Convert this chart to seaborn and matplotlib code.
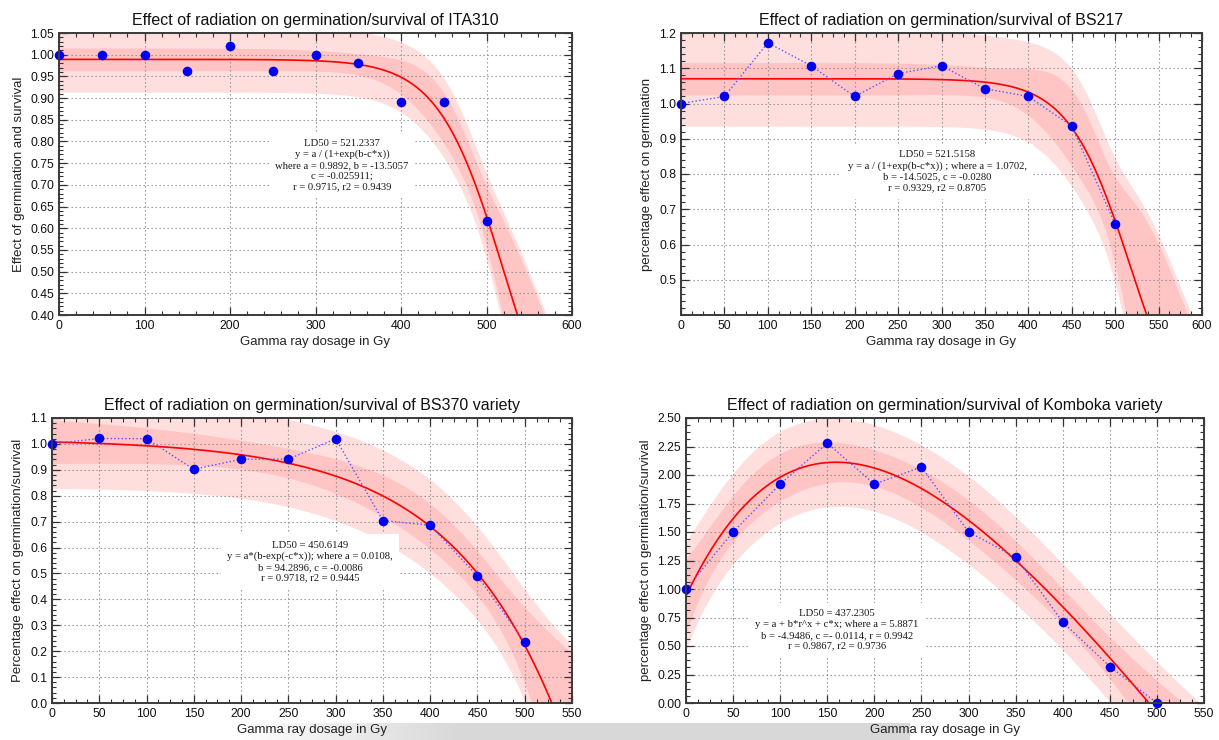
import numpy as np
import pandas as pd
import matplotlib
matplotlib.use("Agg")
import matplotlib.pyplot as plt
import seaborn as sns
from matplotlib.ticker import MultipleLocator, AutoMinorLocator, FormatStrFormatter

# ---------------- data ----------------
dose = [0, 50, 100, 150, 200, 250, 300, 350, 400, 450, 500]
ita310 = [1.00, 1.00, 1.00, 0.963, 1.019, 0.963, 1.00, 0.982, 0.890, 0.890, 0.617]
bs217 = [1.00, 1.02, 1.172, 1.107, 1.02, 1.085, 1.107, 1.042, 1.02, 0.936, 0.658]
bs370 = [1.00, 1.021, 1.02, 0.902, 0.941, 0.941, 1.02, 0.704, 0.686, 0.49, 0.235]
komboka = [1.00, 1.50, 1.92, 2.28, 1.92, 2.07, 1.50, 1.28, 0.71, 0.32, 0.00]

# fitted parameters as printed on the chart
params_ita310 = [0.9892, -13.5057, -0.025911]
params_bs217 = [1.0702, -14.5025, -0.0280]
params_bs370 = [0.0108, 94.2896, -0.0086]
params_komboka = [5.8871, -4.9486, 0.9942, -0.0114]

titles = ["Effect of radiation on germination/survival of ITA310",
          "Effect of radiation on germination/survival of BS217",
          "Effect of radiation on germination/survival of BS370 variety",
          "Effect of radiation on germination/survival of Komboka variety"]
ylabels = ["Effect of germination and survival",
           "percentage effect on germination",
           "Percentage effect on germination/survival",
           "percentage effect on germination/survival"]
xlabel = "Gamma ray dosage in Gy"
notes = ["LD50 = 521.2337\ny = a / (1+exp(b-c*x))\nwhere a = 0.9892, b = -13.5057\nc = -0.025911;\nr = 0.9715, r2 = 0.9439",
         "LD50 = 521.5158\ny = a / (1+exp(b-c*x)) ; where a = 1.0702,\nb = -14.5025, c = -0.0280\nr = 0.9329, r2 = 0.8705",
         "LD50 = 450.6149\ny = a*(b-exp(-c*x)); where a = 0.0108,\nb = 94.2896, c = -0.0086\nr = 0.9718, r2 = 0.9445",
         "LD50 = 437.2305\ny = a + b*r^x + c*x; where a = 5.8871\nb = -4.9486, c =- 0.0114, r = 0.9942\nr = 0.9867, r2 = 0.9736"]


def logistic(x, a, b, c):
    return a / (1 + np.exp(b - c * x))


def expdecay(x, a, b, c):
    return a * (b - np.exp(-c * x))


def asym(x, a, b, r, c):
    return a + b * r ** x + c * x


def fit_bands(f, p, xd, yd, xs, t):
    p = np.array(p, float)
    xd = np.array(xd, float)
    yd = np.array(yd, float)
    n, k = len(xd), len(p)

    def jac(x):
        J = np.empty((len(x), k))
        for i in range(k):
            h = 1e-6 * max(abs(p[i]), 1e-9)
            pp = p.copy(); pp[i] += h
            pm = p.copy(); pm[i] -= h
            J[:, i] = (f(x, *pp) - f(x, *pm)) / (2 * h)
        return J

    res = yd - f(xd, *p)
    s2 = res @ res / (n - k)
    J = jac(xd)
    cov = s2 * np.linalg.pinv(J.T @ J)
    G = jac(xs)
    v = np.einsum('ij,jk,ik->i', G, cov, G)
    y = f(xs, *p)
    return y, t * np.sqrt(v), t * np.sqrt(v + s2)


sns.set_style("ticks")
plt.rcParams['font.family'] = ['Liberation Sans', 'DejaVu Sans']
plt.rcParams['xtick.direction'] = 'in'
plt.rcParams['ytick.direction'] = 'in'

fig = plt.figure(figsize=(12.19, 7.4), dpi=100)

# faint screenshot bar at bottom
bar = fig.add_axes([235 / 1219, 0, (910 - 235) / 1219, 17 / 740], zorder=-5)
grad = np.linspace(0, 1, 300)
img = np.ones((10, 300, 4))
img[..., :3] = 0.82
img[..., 3] = np.clip(grad * 3, 0, 1)[None, :] * 0.85
bar.imshow(img, aspect='auto', extent=[0, 1, 0, 1])
bar.axis('off')

rects = [[59, 33, 572, 315], [681, 33, 1202, 315], [52, 418, 572, 703], [686, 418, 1204, 703]]
axes = []
for (l, t, r, b) in rects:
    axes.append(fig.add_axes([l / 1219, 1 - b / 740, (r - l) / 1219, (b - t) / 740]))

specs = [
    dict(y=ita310, f=logistic, p=params_ita310, tval=2.306, xlim=(0, 600), ylim=(0.40, 1.05),
         xmaj=100, xmin=5, yticks=np.arange(0.40, 1.051, 0.05), ymin=5, fmt='%.2f', dotted=False,
         note_xy=(331, 0.745)),
    dict(y=bs217, f=logistic, p=params_bs217, tval=2.306, xlim=(0, 600), ylim=(0.40, 1.2),
         xmaj=50, xmin=4, yticks=np.arange(0.5, 1.201, 0.1), ymin=5, fmt='%.1f', dotted=True,
         note_xy=(295, 0.808)),
    dict(y=bs370, f=expdecay, p=params_bs370, tval=2.306, xlim=(0, 550), ylim=(0.0, 1.1),
         xmaj=50, xmin=4, yticks=np.arange(0.0, 1.101, 0.1), ymin=5, fmt='%.1f', dotted=True,
         note_xy=(273, 0.545)),
    dict(y=komboka, f=asym, p=params_komboka, tval=2.365, xlim=(0, 550), ylim=(0.0, 2.5),
         xmaj=50, xmin=4, yticks=np.arange(0.0, 2.501, 0.25), ymin=4, fmt='%.2f', dotted=True,
         note_xy=(160, 0.64)),
]

for ax, sp, title, ylab, note in zip(axes, specs, titles, ylabels, notes):
    xs = np.linspace(sp['xlim'][0], sp['xlim'][1], 600)
    yfit, ci, pi = fit_bands(sp['f'], sp['p'], dose, sp['y'], xs, sp['tval'])
    ax.fill_between(xs, yfit - pi, yfit + pi, color='#ffdede', lw=0, zorder=1)
    ax.fill_between(xs, yfit - ci, yfit + ci, color='#ffc4c4', lw=0, zorder=1.2)
    curve = pd.DataFrame({'x': xs, 'y': yfit})
    sns.lineplot(data=curve, x='x', y='y', ax=ax, color='red', lw=1.2, zorder=3)
    pts = pd.DataFrame({'dose': dose, 'val': sp['y']})
    if sp['dotted']:
        sns.lineplot(data=pts, x='dose', y='val', ax=ax, color='#5555ff', lw=1.0,
                     linestyle=':', zorder=3.5)
    sns.scatterplot(data=pts, x='dose', y='val', ax=ax, color='#0000ee', s=48,
                    edgecolor='#0000ee', linewidth=0, zorder=4, clip_on=False)

    ax.set_xlim(*sp['xlim'])
    ax.set_ylim(*sp['ylim'])
    ax.xaxis.set_major_locator(MultipleLocator(sp['xmaj']))
    ax.xaxis.set_minor_locator(AutoMinorLocator(sp['xmin']))
    ax.set_yticks(sp['yticks'])
    ax.yaxis.set_minor_locator(AutoMinorLocator(sp['ymin']))
    ax.yaxis.set_major_formatter(FormatStrFormatter(sp['fmt']))
    ax.tick_params(which='both', direction='in', top=True, right=True, colors='#333333',
                   labelcolor='#111111', labelsize=8.8)
    ax.tick_params(which='major', length=6, width=0.9)
    ax.tick_params(which='minor', length=3, width=0.8)
    ax.set_axisbelow(False)
    ax.grid(True, which='major', linestyle=(0, (1.2, 2.4)), color='#8c8c8c', lw=0.8, zorder=2.5)
    for s in ax.spines.values():
        s.set_color('#3a3a3a')
        s.set_linewidth(1.4)
        s.set_zorder(5)
    ax.set_title(title, fontsize=11.5, pad=6, color='#111111')
    ax.set_xlabel(xlabel, fontsize=9.5, color='#222222', labelpad=3)
    ax.set_ylabel(ylab, fontsize=9.5, color='#222222', labelpad=4)
    ax.text(sp['note_xy'][0], sp['note_xy'][1], note, ha='center', va='center',
            fontsize=7.7, family=['Liberation Serif', 'DejaVu Serif'], linespacing=1.25,
            color='#1a1a1a', zorder=6,
            bbox=dict(boxstyle='square,pad=0.6', facecolor='white', edgecolor='none'))

fig.savefig('out.png', dpi=100)
